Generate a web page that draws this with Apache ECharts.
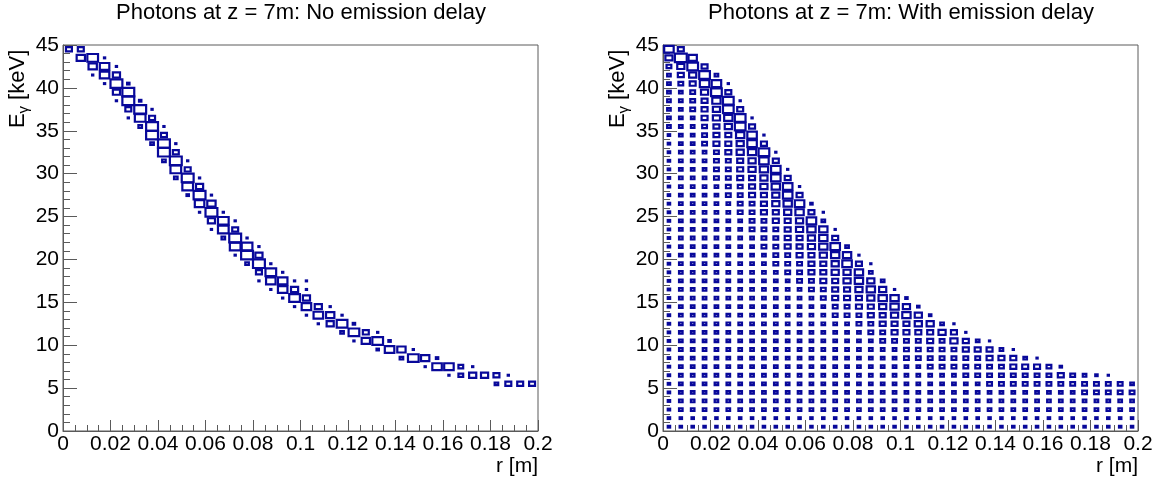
<!DOCTYPE html>
<html><head><meta charset="utf-8">
<script src="https://cdn.jsdelivr.net/npm/echarts@6/dist/echarts.min.js"></script>
<style>html,body{margin:0;padding:0;background:#fff}#c{width:1159px;height:481px}</style>
</head><body><div id="c"></div>
<script>
// ---- binning / ticks ----
const R_MIN = 0, R_MAX = 0.2, R_BINS = 40;
const E_MIN = 0, E_MAX = 45, E_BINS = 45;
const xTickLabels = ['0','0.02','0.04','0.06','0.08','0.1','0.12','0.14','0.16','0.18','0.2'];
const yTickLabels = ['0','5','10','15','20','25','30','35','40','45'];
const panelTitles = ['Photons at z = 7m: No emission delay', 'Photons at z = 7m: With emission delay'];
const xTitle = 'r [m]';
const MAX_LEVEL = 10; // relative bin content of the fullest bin

// ---- left panel: no emission delay ----
// for each r column: highest occupied E bin, then contents going down
const noDelayTopRow = [44,44,43,43,42,40,38,37,35,33,31,29,27,25,24,22,21,19,18,17,17,14,14,13,12,11,11,10,9,9,8,8,7,7,7,6,6,6,5,5];
const noDelayLevels = [
  [5],[5,7],[9,7,1],[1,8,8,1],[1,6,10,6,1],[2,10,10,5,1],[2,10,9,3],[1,5,10,10,3],
  [1,5,10,10,3],[1,5,10,9,3],[1,5,10,9,2],[1,6,10,8,1],[1,7,10,6,1],[1,9,9,3],[1,5,10,9,1],[1,9,10,3],
  [1,6,10,5,1],[1,9,8,1],[1,8,8,1],[1,6,9,1],[1,1,6,8,1],[6,8,1],[1,7,6],[1,9,3],
  [2,9,1],[5,7],[1,9,2],[2,8],[7,3],[1,9],[7,1],[2,8],
  [8,1],[4,4],[1,6],[6],[5,3],[1,5],[5],[5]
];

// ---- right panel: with emission delay ----
// one array per E bin, from the top bin (44-45 keV) down to 0-1 keV; entries per r column from r=0
const delayRows = [
  [8,5],
  [6,10,7],
  [4,6,9,5],
  [3,5,6,9,3],
  [3,4,5,8,8,1],
  [3,3,4,6,9,5],
  [3,3,4,5,7,9,1],
  [3,3,4,5,6,9,5],
  [3,3,3,5,6,7,9,1],
  [3,3,3,4,5,6,9,5],
  [2,3,3,4,5,5,7,8,1],
  [2,3,3,4,5,5,6,8,5],
  [2,3,3,3,4,5,6,7,9,1],
  [2,3,3,3,4,4,5,6,8,5],
  [2,3,3,3,4,4,5,6,7,8,1],
  [2,3,3,3,4,4,5,5,6,8,5],
  [2,3,3,3,3,4,4,5,6,7,8,1],
  [2,3,3,3,3,4,4,5,5,6,8,5],
  [2,3,3,3,3,3,4,4,5,6,7,8,2],
  [2,3,3,3,3,3,4,4,5,5,6,7,5,1],
  [2,3,3,3,3,3,3,4,4,5,5,6,8,3],
  [2,3,3,3,3,3,3,4,4,4,5,6,7,7,1],
  [2,3,3,3,3,3,3,3,4,4,5,5,6,7,5],
  [2,3,3,3,3,3,3,3,4,4,5,5,6,7,8,3],
  [2,3,3,3,3,3,3,3,3,4,4,5,5,6,7,7,1],
  [2,3,3,3,3,3,3,3,3,4,4,4,5,5,6,8,5,1],
  [2,3,3,3,3,3,3,3,3,3,4,4,5,5,6,6,7,3],
  [2,3,3,3,3,3,3,3,3,3,3,4,4,5,5,6,7,6,3],
  [2,3,3,3,3,3,3,3,3,3,3,3,4,4,5,5,6,7,6,1],
  [2,3,3,3,3,3,3,3,3,3,3,3,3,4,5,5,5,6,7,7,2],
  [2,3,3,3,3,3,3,3,3,3,3,3,3,3,4,4,5,5,6,7,6,2],
  [2,3,3,3,3,3,3,3,3,3,3,3,3,3,4,4,4,5,5,6,7,6,2],
  [2,3,3,3,3,3,3,3,3,3,3,3,3,3,3,3,4,4,5,5,5,6,6,3,1],
  [2,3,3,3,3,3,3,3,3,3,3,3,3,3,3,3,3,4,4,5,5,5,5,6,5,1],
  [2,3,3,3,3,3,3,3,3,3,3,3,3,3,3,3,3,3,4,4,4,4,5,4,6,5,3,1],
  [2,3,3,3,3,3,3,3,3,3,3,3,3,3,3,3,3,3,3,3,4,4,4,4,4,5,5,5,3,1],
  [2,3,3,3,3,3,3,3,3,3,3,3,3,3,3,3,3,3,3,3,4,4,4,4,4,4,4,5,5,5,3,1],
  [2,3,3,3,3,3,3,3,3,3,3,3,3,3,3,3,3,3,3,3,3,3,4,4,4,4,4,4,4,5,5,5,4,2],
  [2,3,3,3,3,3,3,3,3,3,3,3,3,3,3,3,3,3,3,3,3,3,3,3,3,4,4,4,4,4,4,4,4,5,4,3,2,1],
  [2,3,3,3,3,3,3,3,3,3,3,3,3,3,3,3,3,3,3,3,3,3,3,3,3,3,3,4,4,4,4,4,4,4,4,4,4,4,4,3],
  [2,3,3,3,3,3,3,3,3,3,3,3,3,3,3,3,3,3,3,3,3,3,3,3,3,3,3,3,3,3,3,3,3,3,3,4,4,4,4,4],
  [2,3,3,3,3,3,3,3,3,3,3,3,3,3,3,3,3,3,3,3,3,3,3,3,3,3,3,3,3,3,3,3,3,3,3,3,3,3,3,3],
  [2,3,3,3,3,3,3,3,3,3,3,3,3,3,3,3,3,3,3,3,3,3,3,3,3,3,3,3,3,3,3,3,3,3,3,3,3,3,3,3],
  [2,2,2,2,2,2,2,2,2,2,2,2,2,2,2,2,2,2,2,2,2,2,2,2,2,2,2,2,2,2,2,2,2,2,2,2,2,2,2,2],
  [2,2,2,2,2,2,2,2,2,2,2,2,2,2,2,2,2,2,2,2,2,2,2,2,2,2,2,2,2,2,2,2,2,2,2,2,2,2,2,2]
];

// ---- build cell lists (bin centres come from the binning) ----
const rBin = (R_MAX - R_MIN) / R_BINS, eBin = (E_MAX - E_MIN) / E_BINS;
function cellsFromColumns(topRows, cols) {
  const out = [];
  cols.forEach((vals, i) => vals.forEach((v, k) => {
    const j = topRows[i] - k;
    if (v > 0) out.push([R_MIN + (i + 0.5) * rBin, E_MIN + (j + 0.5) * eBin, v]);
  }));
  return out;
}
function cellsFromRows(rows) {
  const out = [];
  rows.forEach((vals, idx) => {
    const j = E_BINS - 1 - idx;
    vals.forEach((v, i) => { if (v > 0) out.push([R_MIN + (i + 0.5) * rBin, E_MIN + (j + 0.5) * eBin, v]); });
  });
  return out;
}
const leftCells = cellsFromColumns(noDelayTopRow, noDelayLevels);
const rightCells = cellsFromRows(delayRows);

const FONT = "'Liberation Sans', Arial, Helvetica, sans-serif";
const BOX_COLOR = '#08089a';
const AXIS_COLOR = '#5a5a5a';

function renderBox(params, api) {
  const c = api.coord([api.value(0), api.value(1)]);
  const s = api.size([rBin, eBin]);
  const f = api.value(2) / MAX_LEVEL;
  const w = s[0] * f, h = s[1] * f;
  return {
    type: 'rect',
    shape: { x: c[0] - w / 2, y: c[1] - h / 2, width: w, height: h },
    style: { fill: 'none', stroke: BOX_COLOR, lineWidth: 2.2 }
  };
}

function xAxisCfg(gi) {
  return {
    gridIndex: gi, type: 'value', min: R_MIN, max: R_MAX, interval: 0.02,
    axisLine: { onZero: false, lineStyle: { color: AXIS_COLOR, width: 1 } },
    axisTick: { inside: true, length: 11, lineStyle: { color: AXIS_COLOR } },
    minorTick: { show: true, splitNumber: 4, length: 6, lineStyle: { color: AXIS_COLOR } },
    splitLine: { show: false }, minorSplitLine: { show: false },
    axisLabel: { color: '#000', fontSize: 21, fontFamily: FONT, margin: 3,
      showMinLabel: true, showMaxLabel: true,
      formatter: (v, idx) => xTickLabels[idx] }
  };
}
function yAxisCfg(gi) {
  return {
    gridIndex: gi, type: 'value', min: E_MIN, max: E_MAX, interval: 5,
    axisLine: { onZero: false, lineStyle: { color: AXIS_COLOR, width: 1 } },
    axisTick: { inside: true, length: 14, lineStyle: { color: AXIS_COLOR } },
    minorTick: { show: true, splitNumber: 5, length: 7, lineStyle: { color: AXIS_COLOR } },
    splitLine: { show: false }, minorSplitLine: { show: false },
    axisLabel: { color: '#000', fontSize: 21, fontFamily: FONT, margin: 4,
      showMinLabel: true, showMaxLabel: true,
      formatter: (v, idx) => yTickLabels[idx] }
  };
}

function yTitle(x0) {
  return {
    type: 'group', x: x0, y: 128, rotation: Math.PI / 2,
    children: [
      { type: 'text', x: 0, y: 0, style: { text: 'E', font: '22px ' + FONT, fill: '#000', align: 'left', verticalAlign: 'middle' } },
      { type: 'text', x: 14.5, y: 6, style: { text: 'γ', font: '15px ' + FONT, fill: '#000', align: 'left', verticalAlign: 'middle' } },
      { type: 'text', x: 22, y: 0, style: { text: ' [keV]', font: '22px ' + FONT, fill: '#000', align: 'left', verticalAlign: 'middle' } }
    ]
  };
}
function rTitle(x0) {
  return { type: 'text', x: x0, y: 466, style: { text: xTitle, font: '21px ' + FONT, fill: '#000', align: 'right', verticalAlign: 'middle' } };
}

const chart = echarts.init(document.getElementById('c'), null, { renderer: 'canvas' });
chart.setOption({
  animation: false,
  backgroundColor: '#fff',
  title: [
    { text: panelTitles[0], left: 301, top: 2, textAlign: 'center', padding: 0,
      textStyle: { fontSize: 22, fontWeight: 'normal', color: '#000', fontFamily: FONT } },
    { text: panelTitles[1], left: 901, top: 2, textAlign: 'center', padding: 0,
      textStyle: { fontSize: 22, fontWeight: 'normal', color: '#000', fontFamily: FONT } }
  ],
  grid: [
    { left: 63, top: 45, width: 475, height: 386, show: true, borderColor: AXIS_COLOR, borderWidth: 1, backgroundColor: 'transparent' },
    { left: 663, top: 45, width: 475, height: 386, show: true, borderColor: AXIS_COLOR, borderWidth: 1, backgroundColor: 'transparent' }
  ],
  xAxis: [xAxisCfg(0), xAxisCfg(1)],
  yAxis: [yAxisCfg(0), yAxisCfg(1)],
  series: [
    { type: 'custom', xAxisIndex: 0, yAxisIndex: 0, data: leftCells, renderItem: renderBox, encode: { x: 0, y: 1 }, silent: true },
    { type: 'custom', xAxisIndex: 1, yAxisIndex: 1, data: rightCells, renderItem: renderBox, encode: { x: 0, y: 1 }, silent: true }
  ],
  graphic: [yTitle(18), yTitle(618), rTitle(538), rTitle(1138)]
});
</script>
</body></html>
